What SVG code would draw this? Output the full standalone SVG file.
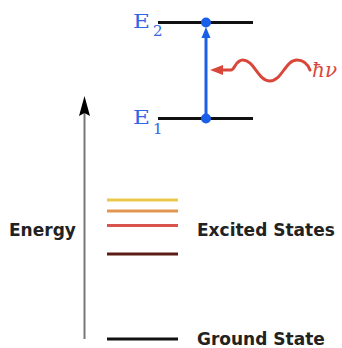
<svg xmlns="http://www.w3.org/2000/svg" width="342" height="348" viewBox="0 0 342 348">
<style>
.lvl{stroke-width:3;fill:none}
.lbl{font-family:"DejaVu Sans",sans-serif;font-weight:bold;font-size:17px;fill:#222}
.el{font-family:"DejaVu Serif","Liberation Serif",serif;fill:#3366e6;font-size:19px}
.sub{font-family:"DejaVu Serif","Liberation Serif",serif;fill:#3366e6;font-size:15px}
</style>
<rect width="342" height="348" fill="#fff"/>
<g id="connectors">
<line x1="84.5" y1="339" x2="84.5" y2="112" stroke="#777" stroke-width="2"/>
<polygon points="84.5,96 90,116 84.5,113 79,116" fill="#000"/>
<line x1="206" y1="118" x2="206" y2="34" stroke="#1a5fe8" stroke-width="3"/>
<polygon points="206,27 210.5,38 201.5,38" fill="#1a5fe8"/>
<path d="M221,70 L231,70 C235,70 235,60 243,60 C254,60 258,81 270,81 C282,81 285,60 297,60 C305,60 308,65 310,70" stroke="#d9473a" stroke-width="3" fill="none" stroke-linecap="round"/>
<polygon points="210,70 223,65 223,75" fill="#d9473a"/>
</g>
<g id="E2">
<line x1="158" y1="22.5" x2="253" y2="22.5" stroke="#111" class="lvl"/>
<circle cx="206" cy="22.5" r="5" fill="#1a5fe8"/>
<text class="el" x="133" y="27.5" textLength="17" lengthAdjust="spacingAndGlyphs">E</text>
<text class="sub" x="153" y="36">2</text>
</g>
<g id="E1">
<line x1="158" y1="118.5" x2="253" y2="118.5" stroke="#111" class="lvl"/>
<circle cx="206" cy="118.5" r="5" fill="#1a5fe8"/>
<text class="el" x="133" y="123.5" textLength="17" lengthAdjust="spacingAndGlyphs">E</text>
<text class="sub" x="153" y="134">1</text>
</g>
<g id="photon">
<text x="312" y="77" font-family="DejaVu Serif,serif" font-style="italic" font-size="20" fill="#d9473a">ħν</text>
</g>
<g id="energy-label">
<text class="lbl" x="9" y="236">Energy</text>
</g>
<g id="excited">
<line x1="107" y1="200" x2="178" y2="200" stroke="#ecc84a" class="lvl"/>
<line x1="107" y1="211" x2="178" y2="211" stroke="#e39650" class="lvl"/>
<line x1="107" y1="225.5" x2="178" y2="225.5" stroke="#d9534f" class="lvl"/>
<line x1="107" y1="254" x2="178" y2="254" stroke="#5a1c14" class="lvl"/>
<text class="lbl" x="197" y="236">Excited States</text>
</g>
<g id="ground">
<line x1="107" y1="339" x2="178" y2="339" stroke="#111" class="lvl"/>
<text class="lbl" x="197" y="344.5">Ground State</text>
</g>
</svg>
